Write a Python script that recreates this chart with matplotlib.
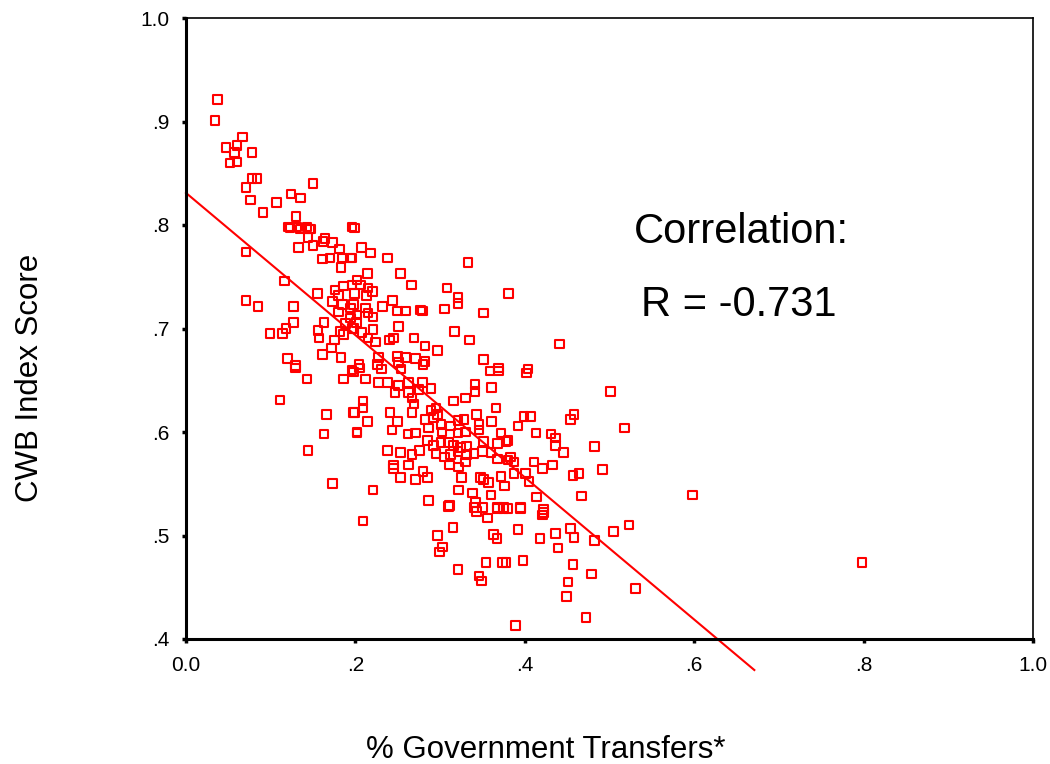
import matplotlib
matplotlib.use("Agg")
import matplotlib.pyplot as plt
import numpy as np

plt.rcParams['font.family'] = ['Liberation Sans', 'DejaVu Sans']

# Scatter data: % Government Transfers (x) vs CWB Index Score (y)
transfers = [
    0.037, 0.034, 0.067, 0.047, 0.060, 0.057, 0.078, 0.052, 0.060, 0.078, 0.084, 0.071, 0.076, 0.107,
    0.091, 0.124, 0.135, 0.150, 0.130, 0.121, 0.131, 0.143, 0.147, 0.196,
    0.071, 0.116, 0.071, 0.085, 0.127, 0.127, 0.118, 0.099, 0.114, 0.120, 0.129, 0.133, 0.150, 0.144,
    0.123, 0.135, 0.146, 0.164, 0.162, 0.173, 0.181, 0.161, 0.170, 0.185, 0.194, 0.183, 0.155, 0.176,
    0.186, 0.196, 0.180, 0.173, 0.185, 0.194, 0.180, 0.194, 0.188, 0.196, 0.163, 0.156, 0.157, 0.182,
    0.186, 0.175, 0.172, 0.161, 0.183, 0.196,
    0.199, 0.207, 0.218, 0.196, 0.238, 0.333, 0.214, 0.253, 0.266, 0.202, 0.206, 0.215, 0.220, 0.199,
    0.213, 0.308, 0.321, 0.321, 0.381, 0.244, 0.232, 0.198, 0.212, 0.215, 0.221, 0.202, 0.201, 0.250,
    0.259, 0.277, 0.279, 0.305, 0.351, 0.251, 0.198, 0.208, 0.215, 0.224, 0.221, 0.245, 0.240, 0.269,
    0.282, 0.297, 0.317, 0.335, 0.227, 0.250, 0.259, 0.271, 0.282, 0.251, 0.351, 0.226, 0.204, 0.369,
    0.441, 0.404,
    0.205, 0.231, 0.254, 0.280, 0.359, 0.369, 0.212, 0.227, 0.238, 0.251, 0.263, 0.279, 0.289, 0.275,
    0.263, 0.247, 0.267, 0.341, 0.341, 0.361, 0.330, 0.316, 0.209, 0.209, 0.199, 0.241, 0.269, 0.267,
    0.289, 0.295, 0.297, 0.292, 0.366, 0.343, 0.214, 0.202, 0.243, 0.250, 0.282, 0.262, 0.271, 0.286,
    0.301, 0.302, 0.312, 0.321, 0.328, 0.330, 0.346, 0.346, 0.361, 0.372, 0.321, 0.285, 0.292, 0.301,
    0.310, 0.316, 0.324, 0.331, 0.351, 0.368, 0.378, 0.238, 0.253, 0.267, 0.276, 0.295, 0.305, 0.312,
    0.321, 0.331, 0.340, 0.350, 0.360, 0.368, 0.380, 0.245, 0.245, 0.263, 0.280, 0.311, 0.322, 0.330,
    0.253, 0.271, 0.285, 0.325, 0.348, 0.351, 0.357, 0.372, 0.376, 0.221, 0.286, 0.322, 0.338, 0.311,
    0.360, 0.342, 0.368, 0.375,
    0.129, 0.143, 0.186, 0.198, 0.111, 0.166, 0.198, 0.163, 0.202, 0.144, 0.173,
    0.402, 0.501, 0.458, 0.454, 0.399, 0.407, 0.392, 0.518, 0.413, 0.431, 0.436, 0.436, 0.446, 0.482,
    0.380, 0.383, 0.387, 0.411, 0.421, 0.433, 0.401, 0.387, 0.405, 0.457, 0.464, 0.492, 0.414, 0.467,
    0.395, 0.422,
    0.209, 0.297, 0.315, 0.303, 0.299, 0.310, 0.340, 0.350, 0.356, 0.368, 0.375, 0.343, 0.363, 0.367,
    0.354, 0.374, 0.321, 0.346, 0.349,
    0.380, 0.395, 0.422, 0.421, 0.392, 0.436, 0.454, 0.458, 0.418, 0.439, 0.482, 0.505, 0.523, 0.378,
    0.398, 0.457, 0.479, 0.451, 0.449, 0.531, 0.472, 0.389,
    0.598, 0.798,
]
cwb_score = [
    0.921, 0.901, 0.885, 0.875, 0.877, 0.870, 0.870, 0.860, 0.861, 0.845, 0.845, 0.836, 0.824, 0.822,
    0.812, 0.830, 0.826, 0.840, 0.808, 0.798, 0.798, 0.798, 0.796, 0.798,
    0.774, 0.746, 0.727, 0.721, 0.721, 0.706, 0.700, 0.695, 0.695, 0.671, 0.664, 0.778, 0.780, 0.788,
    0.797, 0.796, 0.796, 0.787, 0.784, 0.783, 0.777, 0.767, 0.768, 0.768, 0.768, 0.759, 0.734, 0.737,
    0.741, 0.742, 0.732, 0.726, 0.723, 0.720, 0.716, 0.710, 0.705, 0.700, 0.706, 0.698, 0.691, 0.697,
    0.694, 0.689, 0.681, 0.675, 0.672, 0.660,
    0.797, 0.778, 0.773, 0.768, 0.768, 0.764, 0.753, 0.753, 0.742, 0.747, 0.742, 0.739, 0.736, 0.734,
    0.732, 0.739, 0.730, 0.724, 0.734, 0.727, 0.721, 0.723, 0.720, 0.715, 0.711, 0.713, 0.706, 0.717,
    0.717, 0.718, 0.717, 0.719, 0.715, 0.702, 0.700, 0.696, 0.691, 0.687, 0.699, 0.691, 0.689, 0.691,
    0.683, 0.679, 0.697, 0.689, 0.672, 0.673, 0.672, 0.671, 0.668, 0.667, 0.670, 0.665, 0.665, 0.662,
    0.685, 0.661,
    0.662, 0.661, 0.661, 0.665, 0.659, 0.659, 0.651, 0.648, 0.648, 0.645, 0.648, 0.648, 0.642, 0.641,
    0.638, 0.638, 0.633, 0.646, 0.639, 0.643, 0.633, 0.630, 0.630, 0.623, 0.619, 0.619, 0.627, 0.619,
    0.621, 0.623, 0.617, 0.614, 0.623, 0.617, 0.610, 0.599, 0.602, 0.610, 0.612, 0.598, 0.599, 0.604,
    0.607, 0.600, 0.606, 0.611, 0.612, 0.600, 0.607, 0.602, 0.610, 0.599, 0.599, 0.592, 0.587, 0.590,
    0.590, 0.587, 0.585, 0.586, 0.591, 0.589, 0.591, 0.582, 0.580, 0.578, 0.582, 0.579, 0.576, 0.578,
    0.581, 0.578, 0.579, 0.581, 0.580, 0.574, 0.573, 0.568, 0.565, 0.568, 0.562, 0.568, 0.566, 0.571,
    0.556, 0.554, 0.556, 0.556, 0.556, 0.554, 0.551, 0.557, 0.548, 0.544, 0.534, 0.544, 0.541, 0.529,
    0.539, 0.532, 0.527, 0.527,
    0.662, 0.651, 0.651, 0.658, 0.631, 0.617, 0.619, 0.598, 0.600, 0.582, 0.550,
    0.657, 0.639, 0.617, 0.612, 0.615, 0.615, 0.606, 0.604, 0.599, 0.598, 0.594, 0.587, 0.580, 0.586,
    0.592, 0.576, 0.571, 0.571, 0.565, 0.568, 0.560, 0.560, 0.552, 0.558, 0.560, 0.564, 0.537, 0.538,
    0.527, 0.525,
    0.514, 0.500, 0.508, 0.489, 0.484, 0.528, 0.527, 0.527, 0.517, 0.526, 0.526, 0.523, 0.501, 0.497,
    0.474, 0.474, 0.467, 0.461, 0.456,
    0.526, 0.526, 0.522, 0.520, 0.506, 0.502, 0.507, 0.498, 0.497, 0.488, 0.495, 0.504, 0.510, 0.474,
    0.476, 0.472, 0.463, 0.455, 0.441, 0.449, 0.421, 0.413,
    0.539, 0.474,
]

# Fit line shown in the chart
fit_intercept = 0.831
fit_slope = -0.687
fit_x_range = [0.0, 0.671]

x_ticks = [0.0, 0.2, 0.4, 0.6, 0.8, 1.0]
x_tick_labels = ["0.0", ".2", ".4", ".6", ".8", "1.0"]
y_ticks = [0.4, 0.5, 0.6, 0.7, 0.8, 0.9, 1.0]
y_tick_labels = [".4", ".5", ".6", ".7", ".8", ".9", "1.0"]

fig = plt.figure(figsize=(10.5, 7.64), dpi=100)
ax = fig.add_axes([186/1050, 1 - 639/764, 847/1050, 621/764])

ax.scatter(transfers, cwb_score, marker='s', s=38, facecolors='none',
           edgecolors='#ff0000', linewidths=1.5, zorder=3)

fx = np.array(fit_x_range)
ax.plot(fx, fit_intercept + fit_slope * fx, color='#ff0000', lw=1.5,
        clip_on=False, zorder=2)

ax.set_xlim(0, 1.0)
ax.set_ylim(0.4, 1.0)
ax.set_xticks(x_ticks)
ax.set_xticklabels(x_tick_labels)
ax.set_yticks(y_ticks)
ax.set_yticklabels(y_tick_labels)
ax.tick_params(axis='both', direction='out', length=3, width=2.5, labelsize=15,
               color='black')
ax.tick_params(axis='x', pad=9)
ax.tick_params(axis='y', pad=9)

for side in ['left', 'bottom']:
    ax.spines[side].set_linewidth(2.2)
for side in ['top', 'right']:
    ax.spines[side].set_linewidth(1.2)

ax.text(0.656, 0.793, "Correlation:", fontsize=30, ha='center', va='center')
ax.text(0.653, 0.723, "R = -0.731", fontsize=30, ha='center', va='center')

fig.text(30/1050, 1 - 378/764, "CWB Index Score", rotation=90, fontsize=22.5,
         ha='center', va='center')
fig.text(546/1050, 1 - 750/764, "% Government Transfers*", fontsize=22.5,
         ha='center', va='center')

fig.savefig("out.png", dpi=100)
